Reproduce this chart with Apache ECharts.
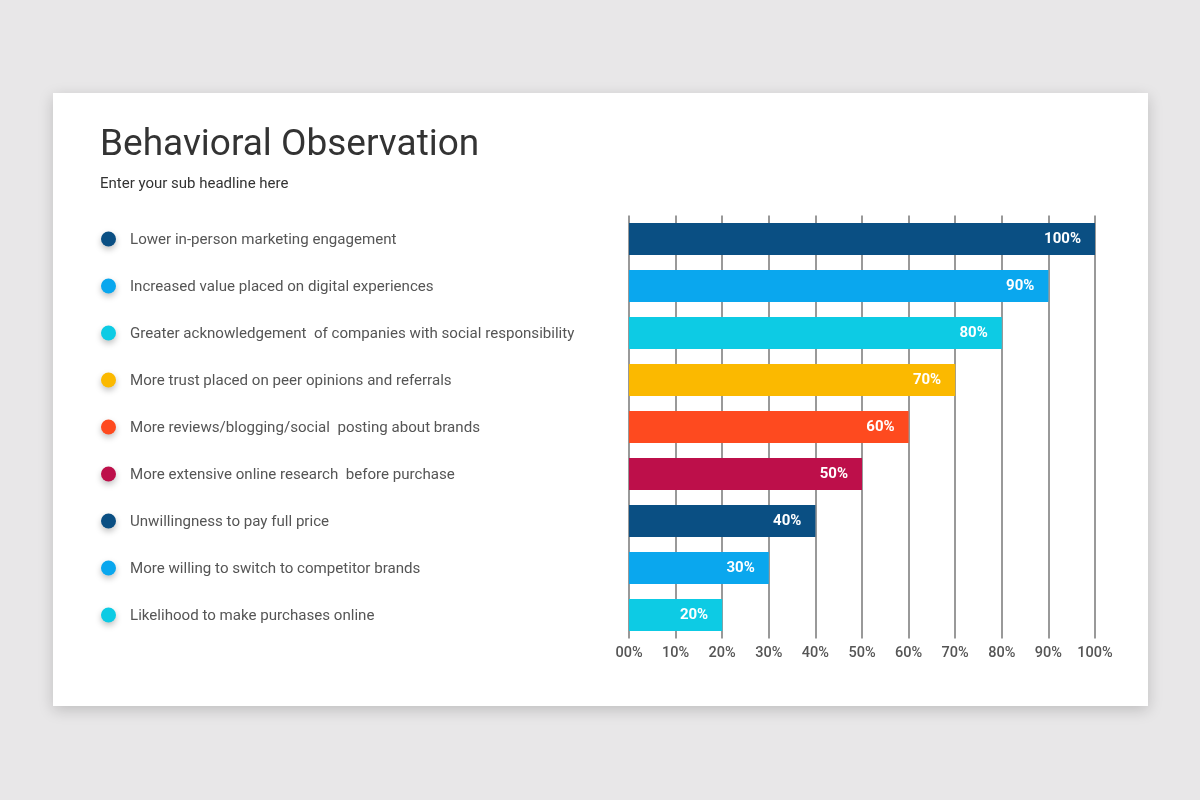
<!DOCTYPE html>
<html>
<head>
<meta charset="utf-8">
<script src="https://cdn.jsdelivr.net/npm/echarts@6/dist/echarts.min.js"></script>
<style>
  html, body { margin: 0; padding: 0; width: 1200px; height: 800px; background: #e8e7e8; overflow: hidden; }
  #card { position: absolute; left: 53px; top: 93px; width: 1095px; height: 613px; background: #fff; box-shadow: 0 4px 14px rgba(0,0,0,0.18); }
  #chart { position: absolute; left: 0; top: 0; width: 1200px; height: 800px; }
</style>
</head>
<body>
<div id="card"></div>
<div id="chart"></div>
<script>
const categories = [
  "Lower in-person marketing engagement",
  "Increased value placed on digital experiences",
  "Greater acknowledgement  of companies with social responsibility",
  "More trust placed on peer opinions and referrals",
  "More reviews/blogging/social  posting about brands",
  "More extensive online research  before purchase",
  "Unwillingness to pay full price",
  "More willing to switch to competitor brands",
  "Likelihood to make purchases online"
];
const values = [100, 90, 80, 70, 60, 50, 40, 30, 20];
const colors = ["#0a4f83", "#0aa7ee", "#0dcbe4", "#fbb900", "#fe4a1f", "#bd0f4a", "#0a4f83", "#0aa7ee", "#0dcbe4"];
const tickLabels = ["00%", "10%", "20%", "30%", "40%", "50%", "60%", "70%", "80%", "90%", "100%"];

const rich = { t: { fontFamily: "Roboto", fontSize: 15.1, color: "#555", padding: [2, 0, 0, 14] } };
colors.forEach((c, i) => {
  rich['d' + i] = { width: 15, height: 15, borderRadius: 8, backgroundColor: c,
    shadowBlur: 6, shadowColor: 'rgba(0,0,0,0.25)', shadowOffsetY: 3 };
});

const chart = echarts.init(document.getElementById('chart'));
chart.setOption({
  animation: false,
  title: {
    text: "Behavioral Observation",
    subtext: "Enter your sub headline here",
    left: 95, top: 122,
    textStyle: { fontFamily: "Roboto", fontSize: 37, fontWeight: 'normal', color: "#333" },
    subtextStyle: { fontFamily: "Roboto", fontSize: 15, color: "#333" },
    itemGap: 13
  },
  grid: { left: 629, right: 105, top: 215.5, bottom: 161.5, containLabel: false },
  xAxis: {
    type: 'value', min: 0, max: 100, interval: 10,
    axisLine: { show: false }, axisTick: { show: false },
    splitLine: { show: true, lineStyle: { color: '#777', width: 1.5 } },
    axisLabel: {
      margin: 7, fontFamily: "Roboto", fontSize: 14.5, fontWeight: 500, color: '#555',
      formatter: (v) => tickLabels[Math.round(v / 10)]
    }
  },
  yAxis: {
    type: 'category', inverse: true, data: categories,
    axisLine: { show: false }, axisTick: { show: false },
    axisLabel: {
      align: 'left', margin: 528,
      formatter: (v, i) => '{d' + i + '|}{t|' + v + '}',
      rich: rich
    }
  },
  series: [{
    type: 'bar', barWidth: 32,
    data: values.map((v, i) => ({ value: v, itemStyle: { color: colors[i] } })),
    label: {
      show: true, position: 'insideRight', distance: 14,
      formatter: '{c}%', color: '#fff', fontFamily: "Roboto", fontSize: 15, fontWeight: 'bold'
    }
  }]
});
</script>
</body>
</html>
